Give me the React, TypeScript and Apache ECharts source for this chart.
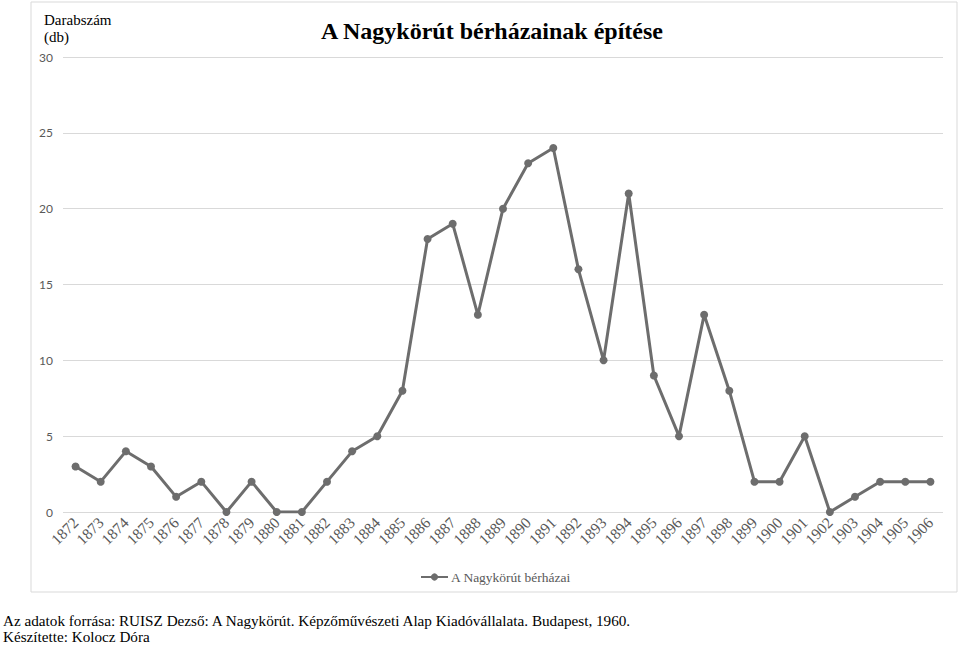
import React, { useEffect, useRef } from "react";
import * as echarts from "echarts";

const years = ["1872","1873","1874","1875","1876","1877","1878","1879","1880","1881","1882","1883","1884","1885","1886","1887","1888","1889","1890","1891","1892","1893","1894","1895","1896","1897","1898","1899","1900","1901","1902","1903","1904","1905","1906"];
const counts = [3,2,4,3,1,2,0,2,0,0,2,4,5,8,18,19,13,20,23,24,16,10,21,9,5,13,8,2,2,5,0,1,2,2,2];
const seriesName = "A Nagykörút bérházai";
const titleText = "A Nagykörút bérházainak építése";
const yName = "Darabszám\n(db)";
const footer1 = "Az adatok forrása: RUISZ Dezső: A Nagykörút. Képzőművészeti Alap Kiadóvállalata. Budapest, 1960.";
const footer2 = "Készítette: Kolocz Dóra";

const SERIF = "'Liberation Serif', 'Times New Roman', serif";

export default function App() {
  const ref = useRef<HTMLDivElement>(null);
  useEffect(() => {
    const chart = echarts.init(ref.current!, null, { renderer: "svg" });
    chart.setOption({
      animation: false,
      backgroundColor: "#fff",
      title: {
        text: titleText,
        left: 487,
        textAlign: "center",
        top: 14,
        textStyle: { fontFamily: SERIF, fontSize: 24, fontWeight: "bold", color: "#000" },
      },
      grid: { left: 63, right: 17, top: 57, bottom: 133, containLabel: false },
      legend: {
        data: [seriesName],
        left: 415,
        top: 565,
        itemWidth: 27,
        itemHeight: 9,
        itemGap: 3,
        textStyle: { fontFamily: SERIF, fontSize: 13.5, color: "#595959", padding: [0, 0, 0, -2] },
      },
      xAxis: {
        type: "category",
        data: years,
        boundaryGap: true,
        axisLine: { show: false },
        axisTick: { show: false },
        axisLabel: { interval: 0, rotate: 45, fontFamily: SERIF, fontSize: 15.5, color: "#595959", margin: 8 },
      },
      yAxis: {
        type: "value",
        min: 0,
        max: 30,
        interval: 5,
        name: yName,
        nameLocation: "end",
        nameGap: 0,
        nameTextStyle: { fontFamily: SERIF, fontSize: 15, color: "#000", align: "left", verticalAlign: "bottom", padding: [0, 0, 6, -19], lineHeight: 17 },
        axisLine: { show: false },
        axisTick: { show: false },
        axisLabel: { fontFamily: "Lato, 'Open Sans', sans-serif", fontSize: 12, color: "#595959", margin: 10 },
        splitLine: { lineStyle: { color: "#d9d9d9", width: 1 } },
      },
      series: [
        {
          name: seriesName,
          type: "line",
          data: counts,
          symbol: "circle",
          symbolSize: 8,
          lineStyle: { color: "#6d6d6d", width: 3 },
          itemStyle: { color: "#6d6d6d" },
        },
      ],
      graphic: [
        { type: "rect", shape: { x: 31, y: 2, width: 926, height: 590 }, style: { fill: "none", stroke: "#d9d9d9", lineWidth: 1 }, silent: true, z: -1 },
        { type: "text", left: 3, top: 613, style: { text: footer1, fontFamily: SERIF, fontSize: 15.2, fill: "#000" } },
        { type: "text", left: 3, top: 629, style: { text: footer2, fontFamily: SERIF, fontSize: 15.2, fill: "#000" } },
      ],
    });
    return () => chart.dispose();
  }, []);
  return <div ref={ref} style={{ position: "absolute", left: 0, top: 0, width: 960, height: 645 }} />;
}
